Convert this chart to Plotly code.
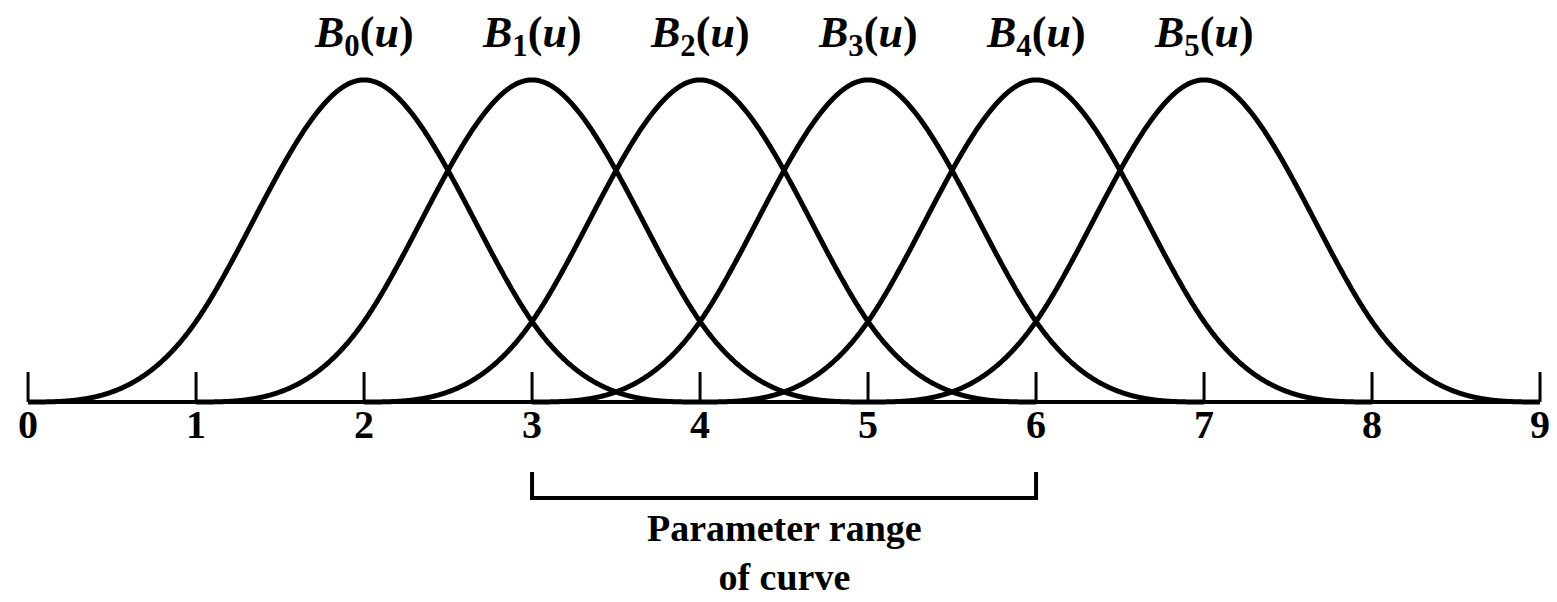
import numpy as np
import plotly.graph_objects as go

# Uniform knot vector and cubic B-spline basis functions B0..B5
KNOTS = [0, 1, 2, 3, 4, 5, 6, 7, 8, 9]
DEGREE = 3
BASIS_SUBSCRIPTS = ["0", "1", "2", "3", "4", "5"]
TICK_VALUES = [0, 1, 2, 3, 4, 5, 6, 7, 8, 9]
TICK_LABELS = ["0", "1", "2", "3", "4", "5", "6", "7", "8", "9"]
PARAM_RANGE = [3, 6]
PARAM_TEXT = "Parameter range<br>of curve"


def basis(i, k, u, t):
    """Cox-de Boor recursion for the i-th basis function of degree k."""
    if k == 0:
        return np.where((u >= t[i]) & (u < t[i + 1]), 1.0, 0.0)
    left = (u - t[i]) / (t[i + k] - t[i]) * basis(i, k - 1, u, t)
    right = (t[i + k + 1] - u) / (t[i + k + 1] - t[i + 1]) * basis(i + 1, k - 1, u, t)
    return left + right


u = np.linspace(KNOTS[0], KNOTS[-1], 1801)
font_serif = "Liberation Serif, Times New Roman, serif"

fig = go.Figure()

# basis curves, each drawn over its own support
for i, sub in enumerate(BASIS_SUBSCRIPTS):
    lo, hi = KNOTS[i], KNOTS[i + DEGREE + 1]
    mask = (u >= lo) & (u <= hi)
    y = basis(i, DEGREE, u, KNOTS)
    fig.add_trace(go.Scatter(x=u[mask], y=y[mask], mode="lines",
                             line=dict(color="black", width=5, simplify=False),
                             hoverinfo="skip", showlegend=False))
    fig.add_annotation(x=(lo + hi) / 2, y=0.758, xref="x", yref="y",
                       text=f"<b><i>B</i><sub>{sub}</sub>(<i>u</i>)</b>",
                       showarrow=False, font=dict(family=font_serif, size=44, color="black"))

# parameter axis with upward ticks
fig.add_trace(go.Scatter(x=[TICK_VALUES[0], TICK_VALUES[-1]], y=[0, 0], mode="lines",
                         line=dict(color="black", width=4),
                         hoverinfo="skip", showlegend=False))
tx, ty = [], []
for v in TICK_VALUES:
    tx += [v, v, None]
    ty += [0, 0.062, None]
fig.add_trace(go.Scatter(x=tx, y=ty, mode="lines", line=dict(color="black", width=3),
                         hoverinfo="skip", showlegend=False))
for v, lab in zip(TICK_VALUES, TICK_LABELS):
    fig.add_annotation(x=v, y=-0.047, text=f"<b>{lab}</b>", showarrow=False,
                       font=dict(family=font_serif, size=40, color="black"))

# bracket marking the parameter range of the curve
a, b = PARAM_RANGE
fig.add_trace(go.Scatter(x=[a, a, b, b], y=[-0.145, -0.199, -0.199, -0.145], mode="lines",
                         line=dict(color="black", width=4),
                         hoverinfo="skip", showlegend=False))
fig.add_annotation(x=(a + b) / 2, y=-0.214, yanchor="top", text=f"<b>{PARAM_TEXT}</b>",
                   showarrow=False, align="center",
                   font=dict(family=font_serif, size=38, color="black"))

fig.update_layout(
    width=1557, height=602,
    margin=dict(l=0, r=0, t=0, b=0),
    paper_bgcolor="white", plot_bgcolor="white",
    xaxis=dict(range=[-0.167, 9.101], visible=False, fixedrange=True),
    yaxis=dict(range=[-0.414, 0.832], visible=False, fixedrange=True),
)

fig.write_html("out.html")
